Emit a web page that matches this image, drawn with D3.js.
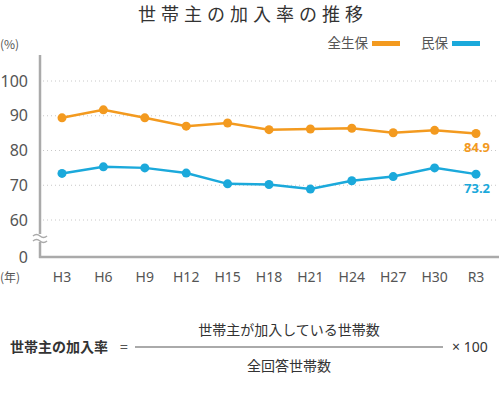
<!DOCTYPE html>
<html>
<head>
<meta charset="utf-8">
<script src="https://cdn.jsdelivr.net/npm/d3@7"></script>
<style>
  body { margin: 0; background: #fff; }
  svg { display: block; font-family: "Noto Sans CJK JP", "Noto Sans", sans-serif; }
</style>
</head>
<body>
<svg width="499" height="393"></svg>
<script>
// data
let years   = ["H3", "H6", "H9", "H12", "H15", "H18", "H21", "H24", "H27", "H30", "R3"];
let zenseiho = [89.4, 91.7, 89.4, 87.0, 87.9, 86.0, 86.2, 86.4, 85.1, 85.8, 84.9];
let minpo    = [73.4, 75.3, 75.0, 73.5, 70.4, 70.2, 68.9, 71.3, 72.5, 75.0, 73.2];
let yTicks   = [0, 60, 70, 80, 90, 100];
let gridTicks = [60, 70, 80, 90, 100];

const ORANGE = "#f39a1f";
const BLUE   = "#1ba9db";

let svg = d3.select("svg");

// title
svg.append("text")
    .attr("x", 253).attr("y", 21)
    .attr("text-anchor", "middle")
    .attr("font-size", 18)
    .attr("letter-spacing", 5)
    .attr("fill", "#333")
    .text("世帯主の加入率の推移");

// scales (axis broken between 0 and 60)
let x = d3.scalePoint().domain(years).range([62, 476]);
let y = d3.scaleLinear().domain([0, 60, 100]).range([257, 220, 81]);

// grid lines
svg.append("g").selectAll("line")
    .data(gridTicks)
    .enter().append("line")
    .attr("x1", 43).attr("x2", 496)
    .attr("y1", d => y(d)).attr("y2", d => y(d))
    .attr("stroke", "#c8c8c8")
    .attr("stroke-width", 1)
    .attr("stroke-dasharray", "1,3");

// axes lines
svg.append("line")
    .attr("x1", 40).attr("x2", 40)
    .attr("y1", 55).attr("y2", y(0) + 1)
    .attr("stroke", "#aaa").attr("stroke-width", 2.5);
svg.append("line")
    .attr("x1", 39).attr("x2", 499)
    .attr("y1", y(0)).attr("y2", y(0))
    .attr("stroke", "#aaa").attr("stroke-width", 2.5);

// break mark
svg.append("rect")
    .attr("x", 33).attr("y", 234).attr("width", 14).attr("height", 8)
    .attr("fill", "#fff");
[235, 240].forEach(yy => {
    svg.append("path")
        .attr("d", `M33,${yy + 1} q3.5,-3 7,0 t7,0`)
        .attr("fill", "none")
        .attr("stroke", "#aaa")
        .attr("stroke-width", 1.5);
});

// y tick labels
svg.append("g").selectAll("text")
    .data(yTicks)
    .enter().append("text")
    .attr("x", 28)
    .attr("y", d => y(d))
    .attr("dy", "0.35em")
    .attr("text-anchor", "end")
    .attr("font-size", 16)
    .attr("fill", "#555")
    .attr("font-family", "Noto Sans, sans-serif")
    .text(d => d);

svg.append("text")
    .attr("x", 0).attr("y", 49)
    .attr("font-size", 12).attr("fill", "#555")
    .text("(%)");

// x tick labels
svg.append("g").selectAll("text")
    .data(years)
    .enter().append("text")
    .attr("x", d => x(d))
    .attr("y", 282)
    .attr("text-anchor", "middle")
    .attr("font-size", 14)
    .attr("fill", "#555")
    .attr("font-family", "Noto Sans, sans-serif")
    .text(d => d);

svg.append("text")
    .attr("x", 0).attr("y", 282)
    .attr("font-size", 12).attr("fill", "#555")
    .text("(年)");

// series
let series = [
    { name: "全生保", values: zenseiho, color: ORANGE },
    { name: "民保",   values: minpo,    color: BLUE }
];

let line = d3.line()
    .x((d, i) => x(years[i]))
    .y(d => y(d));

series.forEach(s => {
    svg.append("path")
        .datum(s.values)
        .attr("d", line)
        .attr("fill", "none")
        .attr("stroke", s.color)
        .attr("stroke-width", 2.5);

    svg.append("g").selectAll("circle")
        .data(s.values)
        .enter().append("circle")
        .attr("cx", (d, i) => x(years[i]))
        .attr("cy", d => y(d))
        .attr("r", 4.5)
        .attr("fill", s.color);

    // last value label
    let last = s.values[s.values.length - 1];
    svg.append("text")
        .attr("x", 490)
        .attr("y", y(last) + 19)
        .attr("text-anchor", "end")
        .attr("font-size", 13)
        .attr("font-weight", "bold")
        .attr("fill", s.color)
        .attr("font-family", "Noto Sans, sans-serif")
        .text(last.toFixed(1));
});

// legend
let legend = [
    { name: "全生保", color: ORANGE, tx: 368, bx: 372 },
    { name: "民保",   color: BLUE,   tx: 448, bx: 452 }
];
legend.forEach(l => {
    svg.append("text")
        .attr("x", l.tx).attr("y", 48)
        .attr("text-anchor", "end")
        .attr("font-size", 13.5)
        .attr("fill", "#555")
        .text(l.name);
    svg.append("rect")
        .attr("x", l.bx).attr("y", 41)
        .attr("width", 28).attr("height", 5)
        .attr("fill", l.color);
});

// formula
svg.append("text")
    .attr("x", 10).attr("y", 352)
    .attr("font-size", 14)
    .attr("font-weight", "bold")
    .attr("fill", "#333")
    .text("世帯主の加入率");
svg.append("text")
    .attr("x", 124).attr("y", 352)
    .attr("text-anchor", "middle")
    .attr("font-size", 14)
    .attr("fill", "#555")
    .text("=");
svg.append("line")
    .attr("x1", 135).attr("x2", 443)
    .attr("y1", 347).attr("y2", 347)
    .attr("stroke", "#aaa").attr("stroke-width", 2);
svg.append("text")
    .attr("x", 289).attr("y", 335)
    .attr("text-anchor", "middle")
    .attr("font-size", 14)
    .attr("fill", "#333")
    .text("世帯主が加入している世帯数");
svg.append("text")
    .attr("x", 289).attr("y", 371)
    .attr("text-anchor", "middle")
    .attr("font-size", 14)
    .attr("fill", "#333")
    .text("全回答世帯数");
svg.append("text")
    .attr("x", 452).attr("y", 352)
    .attr("font-size", 14)
    .attr("fill", "#333")
    .attr("font-family", "Noto Sans, sans-serif")
    .text("× 100");
</script>
</body>
</html>
